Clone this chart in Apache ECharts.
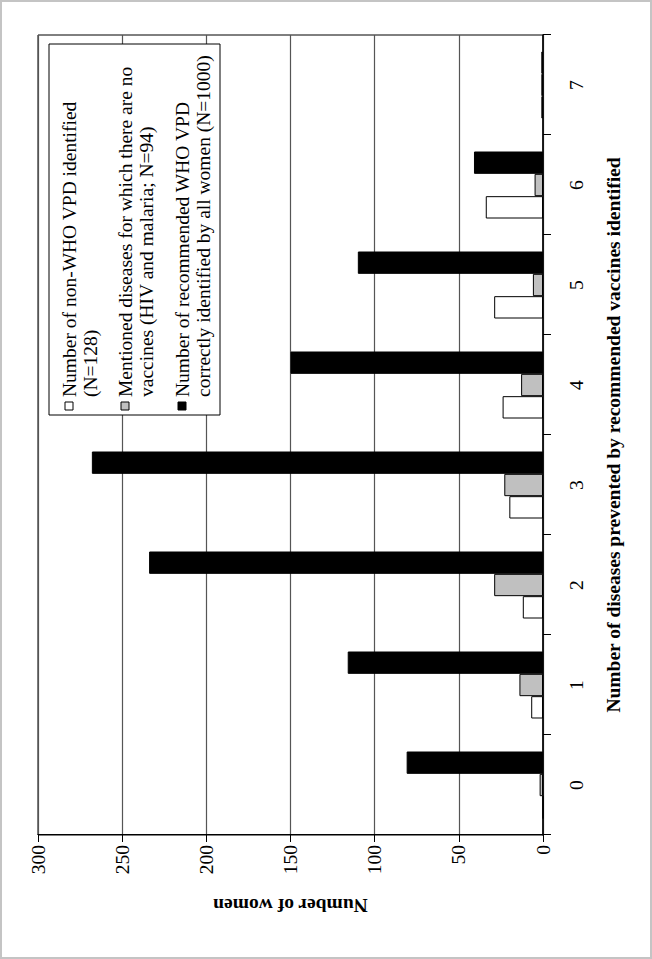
<!DOCTYPE html>
<html><head><meta charset="utf-8">
<script src="https://cdn.jsdelivr.net/npm/echarts@6/dist/echarts.min.js"></script>
<style>
html,body{margin:0;padding:0;background:#fff;width:652px;height:959px;overflow:hidden;}
#frame{position:absolute;left:0;top:0;width:652px;height:959px;box-sizing:border-box;border:2px solid #c4c4c4;pointer-events:none;}
#chart{position:absolute;left:0;top:0;width:959px;height:652px;transform-origin:0 0;transform:translate(0,959px) rotate(-90deg);}
</style></head><body>
<div id="chart"></div><div id="frame"></div>
<script>
const categories = ['0','1','2','3','4','5','6','7'];
const nonWhoVpd = [0, 7, 12, 20, 24, 29, 34, 1];
const noVaccineDiseases = [2, 14, 29, 23, 13, 6, 5, 1];
const whoVpdIdentified = [81, 116, 234, 268, 150, 110, 41, 1];
const seriesNames = [
  'Number of non-WHO VPD identified (N=128)',
  'Mentioned diseases for which there are no vaccines (HIV and malaria; N=94)',
  'Number of recommended WHO VPD correctly identified by all women (N=1000)'
];
const legendLines = [
  ['Number of non-WHO VPD identified', '(N=128)'],
  ['Mentioned diseases for which there are no', 'vaccines (HIV and malaria; N=94)'],
  ['Number of recommended WHO VPD', 'correctly identified by all women (N=1000)']
];
const seriesColors = ['#ffffff', '#c0c0c0', '#000000'];
const xTitle = 'Number of diseases prevented by recommended vaccines identified';
const yTitle = 'Number of women';
const valueMin = 0, valueMax = 300, valueStep = 50;

const FONT = '"Liberation Serif", "Times New Roman", serif';
const chart = echarts.init(document.getElementById('chart'), null, {renderer: 'svg'});
const seriesData = [nonWhoVpd, noVaccineDiseases, whoVpdIdentified];

const legendEls = [];
legendEls.push({type:'rect', shape:{x:544, y:49, width:371, height:171}, style:{fill:'#fff', stroke:'#000', lineWidth:1}, z:100});
const markerCenters = [69, 125, 182];
legendLines.forEach((lines, i) => {
  const c = markerCenters[i];
  legendEls.push({type:'rect', shape:{x:549, y:c-4, width:8, height:8}, style:{fill:seriesColors[i], stroke:'#000', lineWidth:1}, z:101});
  legendEls.push({type:'text', x:562, y:c-10, style:{text:lines.join('\n'), font:'19.5px ' + FONT, lineHeight:21, fill:'#000', verticalAlign:'top'}, z:101});
});

chart.setOption({
  animation: false,
  backgroundColor: '#fff',
  grid: {left:124, right:35, top:38, bottom:109, show:true, borderColor:'#000', borderWidth:1, outerBoundsMode:'none'},
  xAxis: {
    type:'category', data:categories,
    axisLine:{lineStyle:{color:'#000', width:1.5}},
    axisTick:{show:true, length:8, lineStyle:{color:'#000'}},
    axisLabel:{margin:23, fontSize:19.5, color:'#000', fontFamily:FONT},
    name:xTitle, nameLocation:'middle', nameGap:60,
    nameTextStyle:{fontSize:19.5, fontWeight:'bold', color:'#000', fontFamily:FONT}
  },
  yAxis: {
    type:'value', min:valueMin, max:valueMax, interval:valueStep,
    axisLine:{show:true, lineStyle:{color:'#000', width:1}},
    axisTick:{show:true, length:7, lineStyle:{color:'#000'}},
    axisLabel:{margin:10, fontSize:19.5, color:'#000', fontFamily:FONT},
    splitLine:{show:true, lineStyle:{color:'#555', width:1.2}},
    name:yTitle, nameLocation:'middle', nameGap:60,
    nameTextStyle:{fontSize:19.5, fontWeight:'bold', color:'#000', fontFamily:FONT}
  },
  series: seriesData.map((d, i) => ({
    type:'bar', name:seriesNames[i], data:d,
    barGap:'0%', barCategoryGap:'33%',
    itemStyle:{color:seriesColors[i], borderColor:'#000', borderWidth:1}
  })),
  graphic: legendEls
});
</script>
</body></html>
